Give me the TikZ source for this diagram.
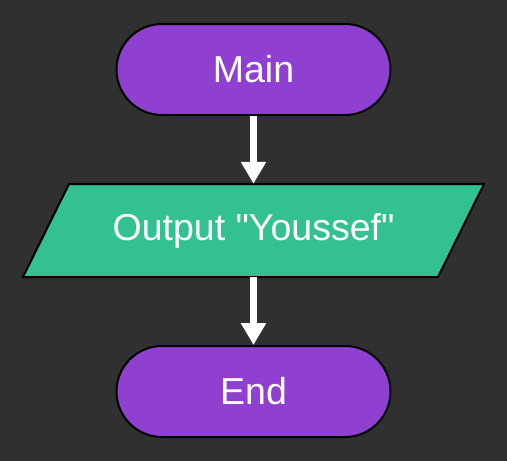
\documentclass[tikz,border=0pt]{standalone}
\usepackage{fontspec}
\setmainfont{Liberation Sans}[Ligatures=TeXOff]
\usetikzlibrary{arrows.meta}
\definecolor{bg}{HTML}{303030}
\definecolor{term}{HTML}{8F40D0}
\definecolor{io}{HTML}{33C191}
\begin{document}
\begin{tikzpicture}[x=1pt,y=-1pt,
  terminal/.style={draw=black,line width=2pt,fill=term,rounded corners=45.5pt,
    minimum width=274pt,minimum height=91pt,inner sep=0pt,text=white,
    font=\fontsize{37.5}{44}\selectfont},
  iotext/.style={minimum width=415pt,minimum height=93pt,inner sep=0pt,text=white,
    font=\fontsize{37.5}{44}\selectfont},
  flow/.style={draw=white,line width=6.5pt,-{Triangle[length=22pt,width=24pt]}}]
\fill[bg] (0,0) rectangle (507,461);
\useasboundingbox (0,0) rectangle (507,461);
\node[terminal] (main) at (253.5,69.5) {Main};
\draw[black,line width=2pt,fill=io] (69,184) -- (484,184) -- (438,277) -- (23,277) -- cycle;
\node[iotext] (out) at (253.5,230.5) {Output "Youssef"};
\node[terminal] (end) at (253.5,391.5) {End};
\draw[flow] (main.south) -- (out.north);
\draw[flow] (out.south) -- (end.north);
\end{tikzpicture}
\end{document}
